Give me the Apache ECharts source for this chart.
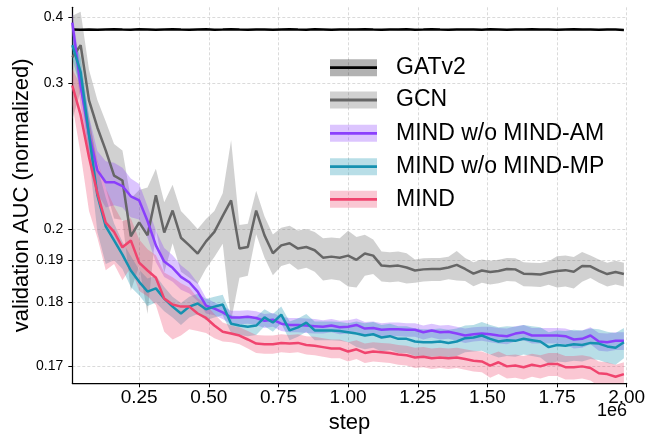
<!DOCTYPE html>
<html><head><meta charset="utf-8">
<script src="https://cdn.jsdelivr.net/npm/echarts@6/dist/echarts.min.js"></script>
<style>html,body{margin:0;padding:0;background:#fff}#c{width:646px;height:437px}</style>
</head><body><div id="c"></div>
<script>
const steps = [10000,40000,70000,100000,130000,160000,190000,220000,250000,280000,
310000,340000,370000,400000,430000,460000,490000,520000,550000,580000,
610000,640000,670000,700000,730000,760000,790000,820000,850000,880000,
910000,940000,970000,1000000,1030000,1060000,1090000,1120000,1150000,1180000,
1210000,1240000,1270000,1300000,1330000,1360000,1390000,1420000,1450000,1480000,
1510000,1540000,1570000,1600000,1630000,1660000,1690000,1720000,1750000,1780000,
1810000,1840000,1870000,1900000,1930000,1960000,1990000];

const gatv2 = [0.3775,0.3770,0.3772,0.3768,0.3775,0.3778,0.3772,0.3770,0.3776,0.3774,
0.3769,0.3773,0.3777,0.3771,0.3768,0.3774,0.3776,0.3770,0.3772,0.3778,
0.3773,0.3769,0.3775,0.3771,0.3767,0.3774,0.3777,0.3772,0.3770,0.3776,
0.3773,0.3769,0.3774,0.3771,0.3775,0.3778,0.3772,0.3768,0.3774,0.3771,
0.3776,0.3770,0.3773,0.3777,0.3772,0.3769,0.3775,0.3771,0.3774,0.3770,
0.3776,0.3773,0.3769,0.3775,0.3772,0.3778,0.3771,0.3774,0.3770,0.3773,
0.3776,0.3771,0.3774,0.3769,0.3775,0.3772,0.3766];
const gatv2Spread = [0.001,0.001,0.001,0.001,0.001,0.001,0.001,0.001,0.001,0.001,
0.001,0.001,0.001,0.001,0.001,0.001,0.001,0.001,0.001,0.001,
0.001,0.001,0.001,0.001,0.001,0.001,0.001,0.001,0.001,0.001,
0.001,0.001,0.001,0.001,0.001,0.001,0.001,0.001,0.001,0.001,
0.001,0.001,0.001,0.001,0.001,0.001,0.001,0.001,0.001,0.001,
0.001,0.001,0.001,0.001,0.001,0.001,0.001,0.001,0.001,0.001,
0.001,0.001,0.001,0.001,0.001,0.001,0.001];

const gcn = [0.333,0.351,0.281,0.2565,0.2395,0.224,0.2214,0.1975,0.2025,0.1978,
0.214,0.1988,0.2072,0.197,0.1945,0.192,0.1958,0.199,0.205,0.2116,
0.1935,0.194,0.2072,0.1978,0.1921,0.1945,0.1952,0.1935,0.194,0.193,
0.1908,0.1911,0.1908,0.1914,0.1902,0.192,0.1914,0.1886,0.1884,0.1886,
0.1881,0.1873,0.1876,0.1877,0.1877,0.1881,0.1888,0.1877,0.1865,0.1873,
0.1869,0.1872,0.1877,0.1876,0.1865,0.1864,0.1863,0.1868,0.1872,0.1874,
0.1870,0.1885,0.1884,0.1873,0.1864,0.1869,0.1864];
const gcnSpread = [0.07,0.06,0.035,0.025,0.022,0.02,0.018,0.015,0.014,0.02,
0.014,0.012,0.012,0.01,0.009,0.008,0.008,0.008,0.01,0.035,
0.008,0.008,0.009,0.007,0.006,0.006,0.006,0.006,0.006,0.006,
0.006,0.006,0.006,0.008,0.007,0.006,0.005,0.004,0.004,0.004,
0.004,0.003,0.003,0.003,0.003,0.003,0.004,0.003,0.003,0.003,
0.003,0.003,0.003,0.003,0.003,0.003,0.003,0.003,0.004,0.004,
0.004,0.004,0.003,0.003,0.003,0.003,0.003];

const noAM = [0.390,0.296,0.251,0.227,0.2205,0.2205,0.2185,0.2135,0.2116,0.203,
0.1945,0.1897,0.188,0.1857,0.1844,0.1823,0.1794,0.1788,0.1781,0.1772,
0.1772,0.1773,0.1771,0.1766,0.1768,0.1761,0.1759,0.1759,0.1758,0.1757,
0.1756,0.1758,0.1755,0.1756,0.1759,0.1753,0.1754,0.1751,0.1752,0.1752,
0.1751,0.1751,0.1747,0.1750,0.1747,0.1748,0.1745,0.1742,0.1744,0.1745,
0.1744,0.1742,0.1741,0.1745,0.1747,0.1742,0.1742,0.1742,0.1742,0.1741,
0.1736,0.1737,0.1742,0.1733,0.1732,0.1734,0.1734];
const noAMSpread = [0.02,0.02,0.015,0.012,0.012,0.011,0.01,0.009,0.008,0.006,
0.005,0.004,0.0035,0.003,0.0025,0.002,0.0015,0.0012,0.0012,0.0012,
0.0012,0.0012,0.0012,0.0012,0.0012,0.0012,0.0012,0.0012,0.0012,0.0012,
0.0011,0.0011,0.0011,0.0011,0.0011,0.0011,0.0011,0.0011,0.0011,0.0011,
0.0011,0.0011,0.0011,0.0011,0.0011,0.0011,0.0011,0.0011,0.0011,0.0011,
0.0012,0.0012,0.0012,0.0012,0.0012,0.0012,0.0012,0.0012,0.0012,0.0012,
0.0013,0.0013,0.0013,0.0013,0.0013,0.0013,0.0013];

const noMP = [0.351,0.313,0.2505,0.214,0.201,0.1961,0.1917,0.1873,0.1845,0.1823,
0.183,0.1808,0.1792,0.1779,0.1792,0.1798,0.1787,0.1792,0.1796,0.1761,
0.1758,0.1756,0.1758,0.1772,0.1763,0.1777,0.1750,0.1755,0.1763,0.1750,
0.1750,0.1750,0.1749,0.1747,0.1745,0.1742,0.1744,0.1739,0.1741,0.1737,
0.1737,0.1733,0.1732,0.1732,0.1733,0.1731,0.1733,0.1738,0.1739,0.1742,
0.1737,0.1733,0.1735,0.1734,0.1737,0.1735,0.1733,0.1725,0.1728,0.1727,
0.1729,0.1728,0.1731,0.1730,0.1726,0.1724,0.1732];
const noMPSpread = [0.02,0.02,0.015,0.015,0.012,0.006,0.004,0.004,0.003,0.003,
0.003,0.0025,0.002,0.002,0.002,0.002,0.002,0.002,0.002,0.0015,
0.0015,0.0015,0.0015,0.0015,0.0015,0.0015,0.0015,0.0015,0.0015,0.0015,
0.0015,0.0015,0.0015,0.0015,0.002,0.002,0.002,0.002,0.002,0.002,
0.002,0.002,0.002,0.002,0.002,0.002,0.002,0.002,0.002,0.0022,
0.0022,0.0022,0.0022,0.0022,0.0022,0.0022,0.0022,0.0022,0.0022,0.0022,
0.0022,0.0022,0.0022,0.0022,0.0022,0.0022,0.0022];

const mind = [0.297,0.267,0.235,0.215,0.2024,0.199,0.1939,0.1961,0.1894,0.1873,
0.1855,0.1808,0.1796,0.1792,0.1792,0.1779,0.1771,0.1758,0.1748,0.1745,
0.1742,0.1736,0.1730,0.1729,0.1729,0.1731,0.1730,0.1731,0.1728,0.1727,
0.1725,0.1723,0.1723,0.1719,0.1722,0.1717,0.1719,0.1718,0.1717,0.1715,
0.1714,0.1711,0.1712,0.1710,0.1711,0.1710,0.1711,0.1709,0.1707,0.1706,
0.1701,0.1705,0.1700,0.1701,0.1699,0.1702,0.1700,0.1703,0.1703,0.1699,
0.1699,0.1700,0.1698,0.1692,0.1691,0.1688,0.1691];
const mindSpread = [0.02,0.03,0.028,0.018,0.015,0.01,0.009,0.008,0.007,0.006,
0.006,0.006,0.006,0.005,0.004,0.003,0.0025,0.002,0.0015,0.0013,
0.0013,0.0013,0.0013,0.0013,0.0013,0.0013,0.0013,0.0013,0.0013,0.0013,
0.0013,0.0013,0.0013,0.0013,0.0013,0.0013,0.0013,0.0013,0.0013,0.0013,
0.0013,0.0013,0.0013,0.0013,0.0013,0.0013,0.0013,0.0013,0.0013,0.0013,
0.0014,0.0014,0.0014,0.0014,0.0014,0.0014,0.0014,0.0014,0.0014,0.0014,
0.0014,0.0014,0.0014,0.0014,0.0014,0.0014,0.0014];

const names = ['GATv2','GCN','MIND w/o MIND-AM','MIND w/o MIND-MP','MIND'];
const xTicks = [250000,500000,750000,1000000,1250000,1500000,1750000,2000000];
const yTicks = [0.17,0.18,0.19,0.2,0.3,0.4];
const xRange = [10000, 2000000];
const yRange = [0.1681, 0.4205];

// axis transform: log(v - offset) scale, as in the original figure
const OFFSET = 0.155, SHIFT = 5;
const T = v => Math.log(v - OFFSET) + SHIFT;
const Tinv = t => Math.exp(t - SHIFT) + OFFSET;

const FONT = "'Liberation Sans', Arial, Helvetica, sans-serif";
const defs = [
  {name:names[0], mean:gatv2, spread:gatv2Spread, color:'#000000'},
  {name:names[1], mean:gcn, spread:gcnSpread, color:'#666666'},
  {name:names[2], mean:noAM, spread:noAMSpread, color:'#8a3ffc'},
  {name:names[3], mean:noMP, spread:noMPSpread, color:'#1591b0'},
  {name:names[4], mean:mind, spread:mindSpread, color:'#f0446e'}
];

const series = [];
defs.forEach((d) => {
  const bandData = steps.map((s, j) => [s, T(d.mean[j] - d.spread[j]), T(d.mean[j] + d.spread[j])]);
  series.push({
    type:'custom', name:d.name + ' band', silent:true, clip:true,
    data: bandData,
    encode:{x:0, y:[1, 2]},
    renderItem: (params, api) => {
      if (params.dataIndex !== 0) return null;
      const up = bandData.map(p => api.coord([p[0], p[2]]));
      const lo = bandData.map(p => api.coord([p[0], p[1]])).reverse();
      return {type:'polygon', shape:{points: up.concat(lo)}, style:{fill:d.color, opacity:0.3}};
    }
  });
  series.push({
    type:'line', name:d.name,
    data: steps.map((s, j) => [s, T(d.mean[j])]),
    symbol:'none', lineStyle:{color:d.color, width:2.5}, silent:true, emphasis:{disabled:true}
  });
});

const legendRows = [67.7, 100, 133.3, 166.7, 199.3];
const graphic = [];
defs.forEach((d, i) => {
  const y = legendRows[i];
  graphic.push({type:'rect', z:100, silent:true, shape:{x:330, y:y - 8.5, width:47, height:17}, style:{fill:d.color, opacity:0.3}});
  graphic.push({type:'line', z:101, silent:true, shape:{x1:330, y1:y, x2:377, y2:y}, style:{stroke:d.color, lineWidth:2.8}});
  graphic.push({type:'text', z:102, silent:true, x:396, y:y, style:{text:d.name, fontSize:23, fontFamily:FONT, fill:'#000', verticalAlign:'middle', align:'left'}});
});
graphic.push({type:'text', z:102, silent:true, x:627, y:411, style:{text:'1e6', fontSize:18, fontFamily:FONT, fill:'#000', verticalAlign:'middle', align:'right'}});

const gridLine = {show:true, lineStyle:{color:'#d0d0d0', width:0.8, type:[3,2]}};
const option = {
  animation:false,
  backgroundColor:'#ffffff',
  grid:{left:72.3, right:19.3, top:7.3, bottom:53.7, containLabel:false, outerBoundsMode:'none'},
  xAxis:{
    type:'value', min:xRange[0], max:xRange[1],
    name:'step', nameLocation:'middle', nameGap:29, nameMoveOverlap:false,
    nameTextStyle:{fontSize:22, color:'#000', fontFamily:FONT},
    axisLine:{show:true, onZero:false, lineStyle:{color:'#000', width:1.25}},
    axisTick:{show:true, length:4, customValues:xTicks, lineStyle:{color:'#000', width:1}},
    axisLabel:{customValues:xTicks, formatter:v => (v / 1e6).toFixed(2), fontSize:19, color:'#000', margin:5, fontFamily:FONT},
    splitLine:gridLine
  },
  yAxis:{
    type:'value', min:T(yRange[0]), max:T(yRange[1]),
    name:'validation AUC (normalized)', nameLocation:'middle', nameGap:39, nameRotate:90, nameMoveOverlap:false,
    nameTextStyle:{fontSize:22, color:'#000', fontFamily:FONT},
    axisLine:{show:true, onZero:false, lineStyle:{color:'#000', width:1.25}},
    axisTick:{show:true, length:4, customValues:yTicks.map(T), lineStyle:{color:'#000', width:1}},
    axisLabel:{customValues:yTicks.map(T), formatter:v => String(+Tinv(v).toFixed(3)), fontSize:14, color:'#000', margin:9, fontFamily:FONT},
    splitLine:gridLine
  },
  series,
  graphic
};
const chart = echarts.init(document.getElementById('c'));
chart.setOption(option);
</script>
</body></html>
